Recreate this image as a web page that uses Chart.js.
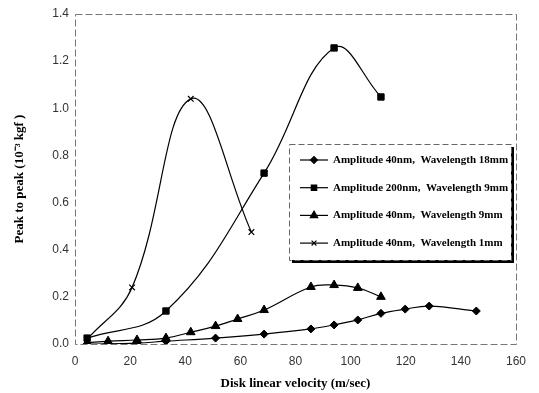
<!DOCTYPE html>
<html>
<head>
<meta charset="utf-8">
<script src="https://cdn.jsdelivr.net/npm/chart.js@4/dist/chart.umd.min.js"></script>
<style>
  html, body { margin: 0; padding: 0; background: #fff; }
  #wrap { width: 539px; height: 393px; }
</style>
</head>
<body>
<div id="wrap"><canvas id="chart" width="539" height="393"></canvas></div>
<script>
// --- Data: disk linear velocity (m/sec) vs peak-to-peak force (10^-3 kgf) ---
const xTicks = [0, 20, 40, 60, 80, 100, 120, 140, 160];
const yTicks = [0, 0.2, 0.4, 0.6, 0.8, 1.0, 1.2, 1.4];

const seriesNames = [
    'Amplitude 40nm,  Wavelength 18mm',
    'Amplitude 200nm,  Wavelength 9mm',
    'Amplitude 40nm,  Wavelength 9mm',
    'Amplitude 40nm,  Wavelength 1mm'
];

const velA40w18 = [4.4, 22.5, 33, 51, 68.6, 85.6, 94, 102.6, 111, 119.8, 128.5, 145.6];
const peakA40w18 = [0.0, 0.004, 0.012, 0.025, 0.042, 0.064, 0.081, 0.102, 0.13, 0.148, 0.161, 0.14];

const velA200w9 = [4.4, 33, 68.6, 94, 111];
const peakA200w9 = [0.025, 0.14, 0.725, 1.256, 1.048];

const velA40w9 = [4.4, 12, 22.5, 33, 42, 51, 59, 68.6, 85.6, 94, 102.6, 111];
const peakA40w9 = [0.005, 0.012, 0.017, 0.025, 0.05, 0.076, 0.106, 0.144, 0.242, 0.25, 0.238, 0.2];

const velA40w1 = [4.4, 20.7, 42, 64];
const peakA40w1 = [0.02, 0.24, 1.04, 0.475];

const pointStyles = ['rectRot', 'rect', 'triangle', 'crossRot'];
const pointSizes = [4, 4.5, 5, 4];

const toXY = (xs, ys) => xs.map((x, i) => ({ x: x, y: ys[i] }));

const seriesData = [
    toXY(velA40w18, peakA40w18),
    toXY(velA200w9, peakA200w9),
    toXY(velA40w9, peakA40w9),
    toXY(velA40w1, peakA40w1)
];

const datasets = seriesData.map((d, i) => ({
    label: seriesNames[i],
    data: d,
    borderColor: '#000',
    backgroundColor: '#000',
    borderWidth: 1.2,
    pointStyle: pointStyles[i],
    pointRadius: pointSizes[i],
    pointBorderWidth: i === 3 ? 1.2 : 1,
    pointBackgroundColor: '#000',
    pointBorderColor: '#000',
    tension: 0.4,
    fill: false
}));

// --- Plot frame drawn as a thin dashed box ---
const frameBox = {
    id: 'frameBox',
    beforeDatasetsDraw(chart) {
        const { ctx, chartArea: a } = chart;
        ctx.save();
        ctx.strokeStyle = '#777';
        ctx.lineWidth = 1;
        ctx.setLineDash([7, 3]);
        ctx.strokeRect(a.left + 0.5, a.top + 0.5, a.right - a.left, a.bottom - a.top);
        ctx.restore();
    }
};

// --- Boxed legend with drop shadow inside the plot ---
const boxLegend = {
    id: 'boxLegend',
    afterDatasetsDraw(chart) {
        const ctx = chart.ctx;
        const bx = 289, by = 144, bw = 222, bh = 116;
        ctx.save();
        // shadow
        ctx.fillStyle = '#000';
        ctx.fillRect(bx + 3, by + 3, bw, bh);
        ctx.fillStyle = '#fff';
        ctx.fillRect(bx, by, bw, bh);
        ctx.strokeStyle = '#666';
        ctx.lineWidth = 1;
        ctx.setLineDash([6, 3]);
        ctx.strokeRect(bx + 0.5, by + 0.5, bw, bh);
        ctx.setLineDash([]);

        ctx.font = 'bold 11px "Liberation Serif", serif';
        ctx.textBaseline = 'middle';
        chart.data.datasets.forEach((ds, i) => {
            const y = by + 16 + i * 27.7;
            ctx.strokeStyle = '#000';
            ctx.lineWidth = 1.2;
            ctx.beginPath();
            ctx.moveTo(bx + 11, y);
            ctx.lineTo(bx + 39, y);
            ctx.stroke();
            ctx.fillStyle = '#000';
            Chart.helpers.drawPoint(ctx, {
                pointStyle: ds.pointStyle,
                radius: ds.pointRadius * 0.85,
                borderWidth: 1,
                rotation: 0
            }, bx + 25, y);
            ctx.fillStyle = '#000';
            ctx.fillText(ds.label, bx + 44, y);
        });
        ctx.restore();
    }
};

new Chart(document.getElementById('chart'), {
    type: 'line',
    data: { datasets: datasets },
    options: {
        responsive: false,
        animation: false,
        layout: { padding: { top: 14, right: 23, left: 0, bottom: 0 } },
        plugins: {
            legend: { display: false },
            tooltip: { enabled: false }
        },
        scales: {
            x: {
                type: 'linear',
                min: 0,
                max: 160,
                afterBuildTicks: (s) => { s.ticks = xTicks.map(v => ({ value: v })); },
                afterFit: (s) => { s.height = 49; },
                grid: { display: false, drawTicks: false },
                border: { display: false },
                ticks: {
                    padding: 10,
                    color: '#333',
                    font: { family: '"Liberation Sans", Arial, sans-serif', size: 12 }
                },
                title: {
                    display: true,
                    text: 'Disk linear velocity (m/sec)',
                    color: '#000',
                    padding: { top: 4, bottom: 2 },
                    font: { family: '"Liberation Serif", serif', size: 13, weight: 'bold' }
                }
            },
            y: {
                type: 'linear',
                min: 0,
                max: 1.4,
                afterBuildTicks: (s) => { s.ticks = yTicks.map(v => ({ value: v })); },
                afterFit: (s) => { s.width = 75; },
                grid: { display: false, drawTicks: false },
                border: { display: false },
                ticks: {
                    padding: 6,
                    color: '#333',
                    callback: (v) => v.toFixed(1),
                    font: { family: '"Liberation Sans", Arial, sans-serif', size: 12 }
                },
                title: {
                    display: true,
                    text: 'Peak to peak (10\u207B\u00B3 kgf )',
                    color: '#000',
                    padding: { top: 12, bottom: 4 },
                    font: { family: '"Liberation Serif", serif', size: 13, weight: 'bold' }
                }
            }
        }
    },
    plugins: [frameBox, boxLegend]
});
</script>
</body>
</html>
